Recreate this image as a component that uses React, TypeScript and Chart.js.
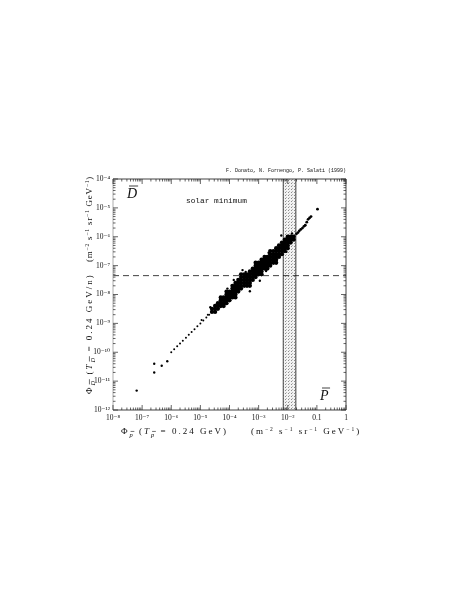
import React, { useEffect, useRef } from "react";
import { Chart, registerables } from "chart.js";

Chart.register(...registerables);

// ---- axes ----
const xTickValues = [1e-8, 1e-7, 1e-6, 1e-5, 1e-4, 1e-3, 1e-2, 1e-1, 1];
const xTickLabels = ["10⁻⁸", "10⁻⁷", "10⁻⁶", "10⁻⁵", "10⁻⁴", "10⁻³", "10⁻²", "0.1", "1"];
const yTickValues = [1e-12, 1e-11, 1e-10, 1e-9, 1e-8, 1e-7, 1e-6, 1e-5, 1e-4];
const yTickLabels = ["10⁻¹²", "10⁻¹¹", "10⁻¹⁰", "10⁻⁹", "10⁻⁸", "10⁻⁷", "10⁻⁶", "10⁻⁵", "10⁻⁴"];

// ---- reference levels ----
const measuredPbarBand = [0.007, 0.019]; // shaded vertical band (p̄ flux)
const dbarSensitivity = 4.5e-8; // dashed horizontal line

// ---- scatter: dense cloud, columns of [x, y values] ----
const cloudColumns: [number, number[]][] = [
  [2.5e-5, [2.5e-9, 3.2e-9]],
  [3.2e-5, [2.5e-9, 3.2e-9, 4e-9]],
  [4e-5, [3.2e-9, 4e-9, 5e-9]],
  [5e-5, [4e-9, 5e-9, 6.3e-9, 7.9e-9]],
  [6.3e-5, [4e-9, 5e-9, 6.3e-9, 7.9e-9]],
  [7.9e-5, [5e-9, 6.3e-9, 7.9e-9, 1e-8, 1.26e-8]],
  [1e-4, [6.3e-9, 7.9e-9, 1e-8, 1.26e-8]],
  [1.26e-4, [7.9e-9, 1e-8, 1.26e-8, 1.6e-8, 2e-8]],
  [1.6e-4, [7.9e-9, 1e-8, 1.26e-8, 1.6e-8, 2e-8, 2.5e-8]],
  [2e-4, [1.26e-8, 1.6e-8, 2e-8, 2.5e-8, 3.2e-8]],
  [2.5e-4, [1.6e-8, 2e-8, 2.5e-8, 3.2e-8, 4e-8, 5e-8]],
  [3.2e-4, [2e-8, 2.5e-8, 3.2e-8, 4e-8, 5e-8]],
  [4e-4, [2e-8, 2.5e-8, 3.2e-8, 4e-8, 5e-8]],
  [5e-4, [2e-8, 2.5e-8, 3.2e-8, 4e-8, 5e-8, 6.3e-8]],
  [6.3e-4, [3.2e-8, 4e-8, 5e-8, 6.3e-8, 7.9e-8]],
  [7.9e-4, [4e-8, 5e-8, 6.3e-8, 7.9e-8, 1e-7, 1.26e-7]],
  [1e-3, [5e-8, 6.3e-8, 7.9e-8, 1e-7, 1.26e-7]],
  [1.26e-3, [5e-8, 6.3e-8, 7.9e-8, 1e-7, 1.26e-7, 1.6e-7]],
  [1.6e-3, [7.9e-8, 1e-7, 1.26e-7, 1.6e-7, 2e-7]],
  [2e-3, [7.9e-8, 1e-7, 1.26e-7, 1.6e-7, 2e-7]],
  [2.5e-3, [1e-7, 1.26e-7, 1.6e-7, 2e-7, 2.5e-7, 3.2e-7]],
  [3.2e-3, [1.26e-7, 1.6e-7, 2e-7, 2.5e-7, 3.2e-7]],
  [4e-3, [1.26e-7, 1.6e-7, 2e-7, 2.5e-7, 3.2e-7, 4e-7]],
  [5e-3, [2e-7, 2.5e-7, 3.2e-7, 4e-7, 5e-7]],
  [6.3e-3, [2.5e-7, 3.2e-7, 4e-7, 5e-7, 6.3e-7]],
  [7.9e-3, [3.2e-7, 4e-7, 5e-7, 6.3e-7, 7.9e-7]],
  [1e-2, [4e-7, 5e-7, 6.3e-7, 7.9e-7, 1e-6]],
  [1.26e-2, [6.3e-7, 7.9e-7, 1e-6]],
  [1.6e-2, [7.9e-7, 1e-6]],
];

const cloudStrays: [number, number][] = [
  [5e-4, 1.3e-8], [2.8e-4, 7e-8], [6e-3, 1.1e-6], [1.1e-3, 3e-8], [1.4e-4, 3.2e-8],
  [2.2e-5, 3.6e-9], [8.5e-5, 1.6e-8], [3.6e-4, 6e-8], [2.2e-3, 2.8e-7], [1.8e-3, 6.5e-8],
  [1.4e-2, 1.3e-6], [9e-3, 3e-7],
];

// thin upper line beyond the cloud
const upperLine: [number, number][] = [
  [2e-2, 1.26e-6], [2.25e-2, 1.4e-6], [2.5e-2, 1.6e-6], [2.8e-2, 1.8e-6],
  [3.2e-2, 2e-6], [3.6e-2, 2.3e-6], [4e-2, 2.5e-6], [4.5e-2, 3.2e-6],
  [5e-2, 4e-6], [5.6e-2, 4.5e-6], [6.3e-2, 5e-6], [0.105, 9e-6],
];

// sparse lower tail
const lowerTail: [number, number][] = [
  [1e-6, 1e-10], [1.26e-6, 1.26e-10], [1.6e-6, 1.6e-10], [2e-6, 2e-10],
  [2.5e-6, 2.5e-10], [3.2e-6, 3.2e-10], [4e-6, 4e-10], [5e-6, 5e-10],
  [6.3e-6, 6.3e-10], [7.9e-6, 7.9e-10], [1e-5, 1e-9], [1.1e-5, 1.3e-9],
  [1.26e-5, 1.26e-9], [1.6e-5, 1.6e-9], [1.8e-5, 2e-9], [2e-5, 2e-9],
];

const outliers: [number, number][] = [
  [6.5e-8, 4.7e-12], [2.6e-7, 4e-11], [2.6e-7, 2e-11], [4.7e-7, 3.4e-11], [7.3e-7, 4.9e-11],
];

// ---- text ----
const creditText = "F. Donato, N. Fornengo, P. Salati (1999)";
const conditionText = "solar minimum";
const yCornerLabel = "D";
const xCornerLabel = "P";

type Run = { t: string; s?: number; it?: boolean; dy?: number; ov?: boolean; at?: number; ls?: number };

const xTitleRuns: Run[] = [
  { t: "Φ", ls: 2 }, { t: "p", s: 6.5, it: true, dy: 2.5, ov: true },
  { t: " (" }, { t: "T", it: true }, { t: "p", s: 6.5, it: true, dy: 2.5, ov: true },
  { t: " = 0.24 GeV)" },
  { t: "(m", at: 130 }, { t: "−2", s: 5.5, dy: -3.5 }, { t: " s" }, { t: "−1", s: 5.5, dy: -3.5 },
  { t: " sr" }, { t: "−1", s: 5.5, dy: -3.5 }, { t: " GeV" }, { t: "−1", s: 5.5, dy: -3.5 }, { t: ")" },
];
const yTitleRuns: Run[] = [
  { t: "Φ", ls: 2 }, { t: "D", s: 6.5, it: true, dy: 2.5, ov: true },
  { t: " (" }, { t: "T", it: true }, { t: "D", s: 6.5, it: true, dy: 2.5, ov: true },
  { t: " = 0.24 GeV/n)" },
  { t: "(m", at: 132, ls: 0.8 }, { t: "−2", s: 5.5, dy: -3.5 }, { t: " s" }, { t: "−1", s: 5.5, dy: -3.5 },
  { t: " sr" }, { t: "−1", s: 5.5, dy: -3.5 }, { t: " GeV" }, { t: "−1", s: 5.5, dy: -3.5 }, { t: ")" },
];

const SERIF = '"Liberation Serif", "DejaVu Serif", serif';
const MONO = '"Liberation Mono", "DejaVu Sans Mono", monospace';

function drawRuns(ctx: CanvasRenderingContext2D, runs: Run[], x0: number, y0: number, base: number) {
  let x = x0;
  for (const r of runs) {
    if (r.at !== undefined) x = x0 + r.at;
    if (r.ls !== undefined) (ctx as any).letterSpacing = `${r.ls}px`;
    const size = r.s ?? base;
    ctx.font = `${r.it ? "italic " : ""}${size}px ${SERIF}`;
    const yy = y0 + (r.dy ?? 0);
    ctx.fillText(r.t, x, yy);
    const w = ctx.measureText(r.t).width;
    if (r.ov) {
      ctx.beginPath();
      ctx.lineWidth = 0.6;
      ctx.moveTo(x + 1, yy - size * 0.78);
      ctx.lineTo(x + w - 0.5, yy - size * 0.78);
      ctx.stroke();
    }
    x += w;
  }
  (ctx as any).letterSpacing = "0px";
}

export default function App() {
  const ref = useRef<HTMLCanvasElement | null>(null);

  useEffect(() => {
    const canvas = ref.current;
    if (!canvas) return;

    const pc = document.createElement("canvas");
    pc.width = 3;
    pc.height = 3;
    const pctx = pc.getContext("2d")!;
    pctx.fillStyle = "#f2f2f2";
    pctx.fillRect(0, 0, 3, 3);
    pctx.fillStyle = "#8a8a8a";
    pctx.fillRect(0, 0, 1, 1);
    pctx.fillStyle = "#b8b8b8";
    pctx.fillRect(1, 2, 1, 1);
    const pattern = canvas.getContext("2d")!.createPattern(pc, "repeat");

    const cloudData = cloudColumns.flatMap(([x, ys]) => ys.map((y) => ({ x, y })));
    const toXY = (arr: [number, number][]) => arr.map(([x, y]) => ({ x, y }));

    const overlay = {
      id: "overlay",
      beforeDatasetsDraw(chart: any) {
        const { ctx, chartArea: a, scales } = chart;
        const xs = scales.x, ys = scales.y;
        const x0 = xs.getPixelForValue(measuredPbarBand[0]);
        const x1 = xs.getPixelForValue(measuredPbarBand[1]);
        ctx.save();
        ctx.fillStyle = pattern || "#ddd";
        ctx.fillRect(x0, a.top, x1 - x0, a.bottom - a.top);
        ctx.strokeStyle = "#111";
        ctx.lineWidth = 0.8;
        ctx.beginPath();
        ctx.moveTo(x0, a.top); ctx.lineTo(x0, a.bottom);
        ctx.moveTo(x1, a.top); ctx.lineTo(x1, a.bottom);
        ctx.stroke();
        const yd = ys.getPixelForValue(dbarSensitivity);
        ctx.setLineDash([6, 4]);
        ctx.lineWidth = 0.8;
        ctx.beginPath();
        ctx.moveTo(a.left, yd); ctx.lineTo(a.right, yd);
        ctx.stroke();
        ctx.restore();
      },
      afterDraw(chart: any) {
        const { ctx, chartArea: a, scales } = chart;
        const xs = scales.x, ys = scales.y;
        ctx.save();
        // frame
        ctx.strokeStyle = "#111";
        ctx.lineWidth = 0.8;
        ctx.beginPath();
        ctx.moveTo(a.left, a.top); ctx.lineTo(a.right, a.top); ctx.lineTo(a.right, a.bottom); ctx.lineTo(a.left, a.bottom);
        ctx.stroke();
        ctx.strokeStyle = "#999";
        ctx.beginPath();
        ctx.moveTo(a.left, a.top); ctx.lineTo(a.left, a.bottom);
        ctx.stroke();
        // ticks
        ctx.strokeStyle = "#222";
        ctx.lineWidth = 0.7;
        ctx.beginPath();
        for (let e = -8; e <= 0; e++) {
          for (let m = 1; m <= 9; m++) {
            const v = m * Math.pow(10, e);
            if (v > 1.0001) break;
            const px = xs.getPixelForValue(v);
            const len = m === 1 ? 5 : 2.5;
            ctx.moveTo(px, a.bottom); ctx.lineTo(px, a.bottom - len);
            ctx.moveTo(px, a.top); ctx.lineTo(px, a.top + len);
          }
        }
        for (let e = -12; e <= -4; e++) {
          for (let m = 1; m <= 9; m++) {
            const v = m * Math.pow(10, e);
            if (v > 1.0001e-4) break;
            const py = ys.getPixelForValue(v);
            const len = m === 1 ? 5 : 2.5;
            ctx.moveTo(a.left, py); ctx.lineTo(a.left + len, py);
            ctx.moveTo(a.right, py); ctx.lineTo(a.right - len, py);
          }
        }
        ctx.stroke();

        ctx.fillStyle = "#111";
        ctx.strokeStyle = "#111";
        ctx.textBaseline = "alphabetic";
        // credit
        ctx.font = `5px ${MONO}`;
        ctx.textAlign = "right";
        ctx.fillText(creditText, a.right, a.top - 7);
        // condition
        ctx.textAlign = "left";
        ctx.font = `7.8px ${MONO}`;
        ctx.fillText(conditionText, 186, 203);
        // corner labels with overline
        ctx.font = `italic 14px ${SERIF}`;
        const dW = ctx.measureText(yCornerLabel).width;
        ctx.fillText(yCornerLabel, 127, 198);
        ctx.lineWidth = 0.8;
        ctx.beginPath(); ctx.moveTo(129, 186); ctx.lineTo(127 + dW + 1, 186); ctx.stroke();
        const pW = ctx.measureText(xCornerLabel).width;
        ctx.fillText(xCornerLabel, 320, 400);
        ctx.beginPath(); ctx.moveTo(322, 388); ctx.lineTo(320 + pW + 1.5, 388); ctx.stroke();

        // axis titles
        drawRuns(ctx, xTitleRuns, 121, 434, 9);
        ctx.save();
        ctx.translate(92, 394);
        ctx.rotate(-Math.PI / 2);
        drawRuns(ctx, yTitleRuns, 0, 0, 9);
        ctx.restore();
        ctx.restore();
      },
    };

    const pt = { backgroundColor: "#000", borderColor: "#000", borderWidth: 0, pointHoverRadius: 0 };

    const chart = new Chart(canvas, {
      type: "scatter",
      data: {
        datasets: [
          { data: cloudData, pointRadius: 2.15, ...pt },
          { data: toXY(cloudStrays), pointRadius: 1.2, ...pt },
          { data: toXY(upperLine), pointRadius: 1.4, ...pt },
          { data: toXY(lowerTail), pointRadius: 1.0, ...pt },
          { data: toXY(outliers), pointRadius: 1.2, ...pt },
        ],
      },
      options: {
        responsive: false,
        animation: false,
        events: [],
        layout: { padding: { left: 83, right: 111, top: 179, bottom: 157 } },
        plugins: { legend: { display: false }, tooltip: { enabled: false }, title: { display: false } },
        scales: {
          x: {
            type: "logarithmic",
            min: 1e-8,
            max: 1,
            grid: { display: false, drawTicks: false },
            border: { display: false },
            afterBuildTicks: (s: any) => { s.ticks = xTickValues.map((v) => ({ value: v })); },
            afterFit: (s: any) => { s.height = 24; },
            ticks: {
              autoSkip: false, maxRotation: 0, minRotation: 0, padding: 4, color: "#111",
              font: { family: SERIF, size: 7.5 },
              callback: (_v: any, i: number) => xTickLabels[i],
            },
          },
          y: {
            type: "logarithmic",
            min: 1e-12,
            max: 1e-4,
            grid: { display: false, drawTicks: false },
            border: { display: false },
            afterBuildTicks: (s: any) => { s.ticks = yTickValues.map((v) => ({ value: v })); },
            afterFit: (s: any) => { s.width = 30; },
            ticks: {
              autoSkip: false, padding: 3, color: "#111",
              font: { family: SERIF, size: 7.5 },
              callback: (_v: any, i: number) => yTickLabels[i],
            },
          },
        },
      } as any,
      plugins: [overlay],
    });

    return () => chart.destroy();
  }, []);

  return (
    <div style={{ position: "fixed", left: 0, top: 0, width: 457, height: 591, background: "#fff" }}>
      <canvas ref={ref} width={457} height={591} style={{ display: "block" }} />
    </div>
  );
}
